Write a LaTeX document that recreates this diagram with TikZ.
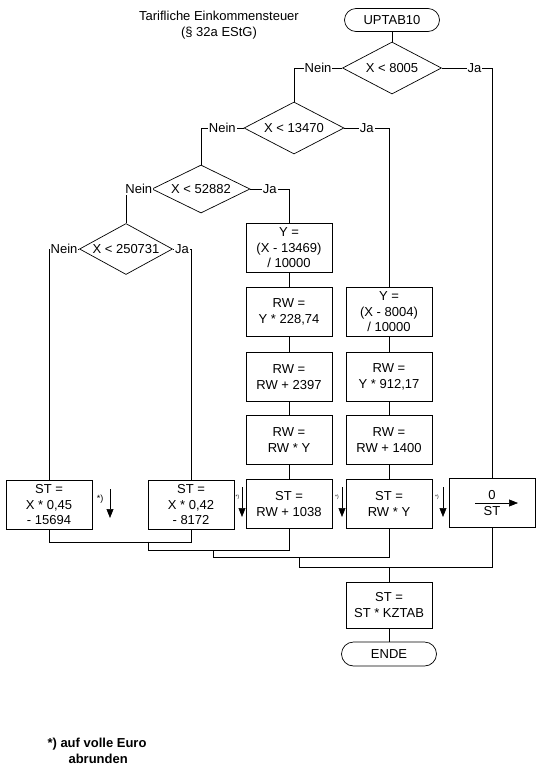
\documentclass[tikz,border=0pt]{standalone}
\usepackage{fontspec}
\setmainfont{Liberation Sans}
\usetikzlibrary{arrows.meta, shapes.geometric}

\tikzset{
  box/.style={draw, line width=0.7pt, minimum width=86pt, minimum height=49pt, align=center, inner sep=1pt},
  term/.style={draw, line width=0.7pt, rounded corners=11.5pt, minimum width=95pt, minimum height=23pt, inner sep=1pt},
  cond/.style={draw, line width=0.7pt, diamond, aspect=1.8, inner sep=0pt},
  lbl/.style={fill=white, inner sep=1pt},
  flow/.style={line width=0.7pt},
  rnd/.style={line width=0.6pt, -{Triangle[width=7pt,length=9pt]}},
}

\begin{document}
\begin{tikzpicture}[x=1pt, y=-1pt, font=\fontsize{13}{15.5}\selectfont]
        \useasboundingbox (0,0) rectangle (542,772);
        % head
        \node[align=center] (title) at (219,25) {Tarifliche Einkommensteuer\\(§ 32a EStG)};
        \node[term] (start) at (392,20) {UPTAB10};
        % decisions
        \node[cond, minimum width=99pt, minimum height=52pt] (d1) at (392,68) {X < 8005};
        \node[cond, minimum width=100pt, minimum height=52pt] (d2) at (294,128) {X < 13470};
        \node[cond, minimum width=98pt, minimum height=48pt] (d3) at (201,189) {X < 52882};
        \node[cond, minimum width=93pt, minimum height=51pt] (d4) at (126,249) {X < 250731};
        % zone 13470 .. 52881
        \node[box] (y1) at (289,248) {Y =\\(X - 13469)\\/ 10000};
        \node[box] (rw1) at (289,312) {RW =\\Y * 228,74};
        \node[box] (rw2) at (289,377) {RW =\\RW + 2397};
        \node[box] (rw3) at (289,440) {RW =\\RW * Y};
        \node[box] (st3) at (289,504) {ST =\\RW + 1038};
        % zone 8005 .. 13469
        \node[box] (y2) at (389,312) {Y =\\(X - 8004)\\/ 10000};
        \node[box] (rw4) at (389,377) {RW =\\Y * 912,17};
        \node[box] (rw5) at (389,440) {RW =\\RW + 1400};
        \node[box] (st4) at (389,504) {ST =\\RW * Y};
        % upper zones
        \node[box] (st1) at (49,505) {ST =\\X * 0,45\\- 15694};
        \node[box] (st2) at (191,505) {ST =\\X * 0,42\\- 8172};
        % zero tax
        \node[box] (st5) at (492,503) {0\\ST};
        \draw[rnd] (475,503) -- (518,503);
        % end
        \node[box, minimum height=46pt] (kz) at (389,605) {ST =\\ST * KZTAB};
        \node[term, minimum height=24pt, rounded corners=12pt] (ende) at (389,654) {ENDE};
        % branches
        \draw[flow] (start) -- (d1);
        \draw[flow] (d1.west) -- node[lbl]{Nein} (d1.west -| d2.north) -- (d2.north);
        \draw[flow] (d1.east) -- node[lbl, pos=0.65]{Ja} (d1.east -| st5.north) -- (st5.north);
        \draw[flow] (d2.west) -- node[lbl]{Nein} (d2.west -| d3.north) -- (d3.north);
        \draw[flow] (d2.east) -- node[lbl]{Ja} (d2.east -| y2.north) -- (y2.north);
        \draw[flow] (d3.west) -- node[lbl]{Nein} (d3.west -| d4.north) -- (d4.north);
        \draw[flow] (d3.east) -- node[lbl]{Ja} (d3.east -| y1.north) -- (y1.north);
        \draw[flow] (d4.west) -- node[lbl]{Nein} (d4.west -| st1.north) -- (st1.north);
        \draw[flow] (d4.east) -- node[lbl]{Ja} (d4.east -| st2.north) -- (st2.north);
        % chains
        \draw[flow] (y1) -- (rw1) -- (rw2) -- (rw3) -- (st3);
        \draw[flow] (y2) -- (rw4) -- (rw5) -- (st4);
        \draw[flow] (kz) -- (ende);
        % joins
        \coordinate (j1) at (148,541.5);
        \coordinate (j2) at (213,550);
        \coordinate (j3) at (299,557.5);
        \coordinate (j4) at (389,567.5);
        \draw[flow] (st1.south) -- ++(0,12) -| (st2.south);
        \draw[flow] (j1) -- ++(0,8.5) -| (st3.south);
        \draw[flow] (j2) -- ++(0,7.5) -| (st4.south);
        \draw[flow] (j3) -- ++(0,10) -| (st5.south);
        \draw[flow] (j4) -- (kz.north);
        % rounding marks
        \node[font=\fontsize{9}{9}\selectfont] (r1) at (100,499) {*)};
        \draw[rnd] (110,489) -- (110,518);
        \node[font=\tiny] (r2) at (237.5,497) {*)};
        \draw[rnd] (242,487) -- (242,517);
        \node[font=\tiny] (r3) at (337,497) {*)};
        \draw[rnd] (342,487) -- (342,517);
        \node[font=\tiny] (r4) at (437,497) {*)};
        \draw[rnd] (443,487) -- (443,517);
        % footnote
        \node[anchor=north west, align=left, font=\fontsize{13}{15.5}\selectfont\bfseries] (note) at (44,735) {*) auf volle Euro\\\hspace*{21pt}abrunden};
\end{tikzpicture}
\end{document}
